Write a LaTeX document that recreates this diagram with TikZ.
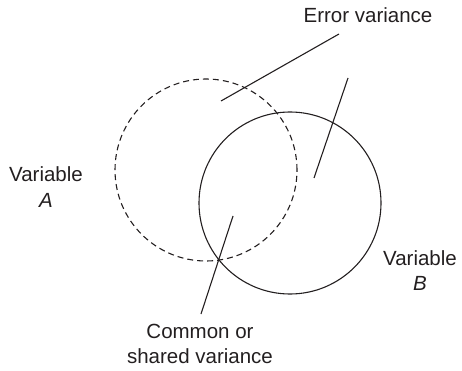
\documentclass[tikz,border=0pt]{standalone}
\usepackage{fontspec}
\setmainfont{Liberation Sans}
\definecolor{ink}{HTML}{231F20}
\begin{document}
\begin{tikzpicture}[x=1pt,y=-1pt,
  lbl/.style={text=ink,font=\fontsize{20.5}{25}\selectfont,inner sep=0pt,align=center},
  ring/.style={draw=ink,line width=1.1pt},
  leader/.style={draw=ink,line width=1.1pt}]
\useasboundingbox (0,0) rectangle (462,371);
% circles
\node[ring,dash pattern=on 6pt off 4pt,circle,minimum size=182pt,inner sep=0pt] (ca) at (206,170) {};
\node[ring,circle,minimum size=182pt,inner sep=0pt] (cb) at (290,203) {};
% labels (base anchor = baseline of last line)
\node[lbl,anchor=base] (err) at (368,23) {Error variance};
\node[lbl,anchor=base] (va) at (46,207) {Variable\\\textit{A}};
\node[lbl,anchor=base] (vb) at (420,290) {Variable\\\textit{B}};
\node[lbl,anchor=base] (com) at (200,363) {Common or\\shared variance};
% leader end points
\coordinate (e1s) at (339,34);
\coordinate (e1e) at (221,101);
\coordinate (e2s) at (348,78);
\coordinate (e2e) at (314,178);
\coordinate (c1s) at (233,216);
\coordinate (c1e) at (201,314);
\draw[leader] (e1s) -- (e1e);
\draw[leader] (e2s) -- (e2e);
\draw[leader] (c1s) -- (c1e);
\end{tikzpicture}
\end{document}
